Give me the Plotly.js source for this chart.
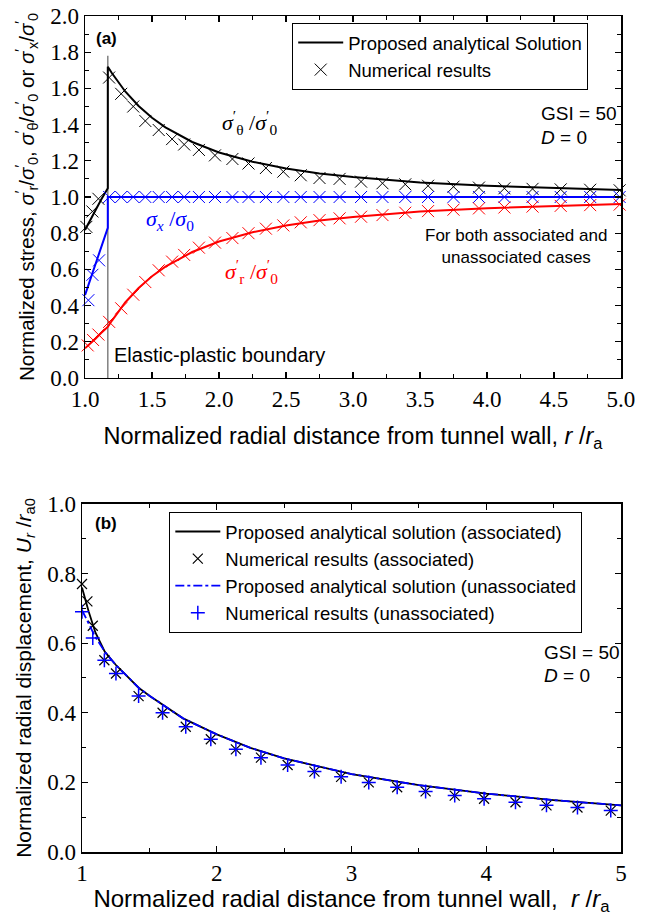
<!DOCTYPE html>
<html>
<head>
<meta charset="utf-8">
<script src="https://cdn.plot.ly/plotly-3.0.1.min.js"></script>
<style>html,body{margin:0;padding:0;background:#fff;}</style>
</head>
<body>
<div id="chart" style="width:646px;height:916px;"></div>
<script>
// ---------- Panel (a): normalized stresses ----------
// analytical solution, plastic zone (r/ra from 1 to boundary)
const aPlasticX      = [1.0, 1.04, 1.08, 1.12, 1.17];
const aPlasticTheta  = [0.818, 0.875, 0.93, 0.985, 1.048];
const aPlasticSx     = [0.458, 0.545, 0.635, 0.72, 0.83];
const aPlasticR      = [0.164, 0.19, 0.218, 0.248, 0.283];
// analytical solution, elastic zone
const aElasticX      = [1.17, 1.2, 1.3, 1.4, 1.5, 1.6, 1.8, 2.0, 2.25, 2.5, 2.75, 3.0, 3.5, 4.0, 4.5, 5.0];
const aElasticTheta  = [1.72, 1.685, 1.583, 1.503, 1.438, 1.385, 1.304, 1.246, 1.195, 1.158, 1.130, 1.110, 1.080, 1.062, 1.049, 1.039];
const aElasticR      = [0.283, 0.316, 0.417, 0.497, 0.562, 0.615, 0.696, 0.754, 0.805, 0.842, 0.870, 0.890, 0.920, 0.938, 0.951, 0.961];
const aElasticSx     = [1.0, 1.0, 1.0, 1.0, 1.0, 1.0, 1.0, 1.0, 1.0, 1.0, 1.0, 1.0, 1.0, 1.0, 1.0, 1.0];
const boundaryX      = [1.17, 1.17];
const boundaryY      = [0.0, 1.78];
// numerical results, plastic zone
const nThetaPX = [1.01, 1.055, 1.10];   const nThetaPY = [0.835, 0.92, 0.99];
const nSxPX    = [1.025, 1.055, 1.105]; const nSxPY    = [0.43, 0.57, 0.65];
const nRPX     = [1.02, 1.06, 1.10];    const nRPY     = [0.18, 0.21, 0.24];
// numerical results, elastic zone
const nElX = [1.18, 1.27, 1.36, 1.45, 1.55, 1.65, 1.74, 1.85, 1.97, 2.10, 2.22, 2.35, 2.48, 2.61, 2.75, 2.90, 3.06, 3.22, 3.39, 3.56, 3.75, 3.94, 4.13, 4.34, 4.55, 4.77, 4.99];
const nElTheta = [1.66, 1.57, 1.50, 1.42, 1.37, 1.32, 1.29, 1.26, 1.23, 1.21, 1.185, 1.16, 1.14, 1.12, 1.105, 1.10, 1.085, 1.076, 1.07, 1.062, 1.057, 1.052, 1.048, 1.045, 1.042, 1.04, 1.037];
const nElSx    = [1.0, 1.0, 1.0, 1.0, 1.0, 1.0, 1.0, 1.0, 1.0, 1.0, 1.0, 1.0, 1.0, 1.0, 1.0, 1.0, 1.0, 1.0, 1.0, 1.0, 1.0, 1.0, 1.0, 1.0, 1.0, 1.0, 1.0];
const nElR     = [0.31, 0.385, 0.46, 0.53, 0.595, 0.643, 0.68, 0.72, 0.748, 0.773, 0.80, 0.825, 0.843, 0.86, 0.872, 0.882, 0.891, 0.90, 0.913, 0.922, 0.93, 0.937, 0.942, 0.947, 0.951, 0.955, 0.958];

// ---------- Panel (b): normalized radial displacement ----------
const bLineX      = [1.0, 1.05, 1.1, 1.17, 1.25, 1.42, 1.5, 1.75, 2.0, 2.25, 2.5, 3.0, 3.5, 4.0, 4.5, 5.0];
const bAssocLine  = [0.76, 0.69, 0.63, 0.575, 0.538, 0.472, 0.449, 0.384, 0.338, 0.299, 0.269, 0.224, 0.192, 0.168, 0.149, 0.134];
const bUnassocLine= [0.695, 0.655, 0.617, 0.575, 0.538, 0.472, 0.449, 0.384, 0.338, 0.299, 0.269, 0.224, 0.192, 0.168, 0.149, 0.134];
const bAssocNumX  = [1.0, 1.04, 1.08, 1.166, 1.252, 1.42, 1.598, 1.77, 1.956, 2.142, 2.328, 2.526, 2.725, 2.923, 3.128, 3.339, 3.55, 3.766, 3.984, 4.217, 4.447, 4.677, 4.924];
const bAssocNumY  = [0.77, 0.72, 0.65, 0.551, 0.513, 0.448, 0.40, 0.36, 0.324, 0.295, 0.271, 0.25, 0.231, 0.216, 0.20, 0.186, 0.174, 0.162, 0.153, 0.143, 0.134, 0.128, 0.119];
const bUnassocNumX= [1.0, 1.08, 1.166, 1.252, 1.42, 1.598, 1.77, 1.956, 2.142, 2.328, 2.526, 2.725, 2.923, 3.128, 3.339, 3.55, 3.766, 3.984, 4.217, 4.447, 4.677, 4.924];
const bUnassocNumY= [0.69, 0.615, 0.551, 0.513, 0.448, 0.40, 0.36, 0.324, 0.295, 0.271, 0.25, 0.231, 0.216, 0.20, 0.186, 0.174, 0.162, 0.153, 0.143, 0.134, 0.128, 0.119];

const SANS = 'Liberation Sans, Arial, sans-serif';
const SERIF = 'Liberation Serif, Times New Roman, serif';
const BLUE = '#0000ff', RED = '#ff0000', BLACK = '#000000';

function lineTrace(x, y, color, opts) {
  return Object.assign({type:'scatter', mode:'lines', x:x, y:y, line:{color:color, width:2}, showlegend:false, xaxis:'x', yaxis:'y', hoverinfo:'skip'}, opts||{});
}
function markTrace(x, y, color, opts) {
  return Object.assign({type:'scatter', mode:'markers', x:x, y:y, cliponaxis:false,
    marker:{symbol:'x-thin', size:12, color:color, line:{color:color, width:1}}, showlegend:false, xaxis:'x', yaxis:'y', hoverinfo:'skip'}, opts||{});
}

const traces = [
  lineTrace(boundaryX, boundaryY, '#808080', {line:{color:'#808080', width:1.5}}),
  // analytical
  lineTrace(aPlasticX.concat(aElasticX), aPlasticTheta.concat(aElasticTheta), BLACK, {name:'Proposed analytical Solution', showlegend:true, legend:'legend'}),
  lineTrace(aPlasticX.concat(aElasticX), aPlasticSx.concat(aElasticSx), BLUE),
  lineTrace(aPlasticX.concat(aElasticX), aPlasticR.concat(aElasticR), RED),
  // numerical
  markTrace(nThetaPX.concat(nElX), nThetaPY.concat(nElTheta), BLACK, {name:'Numerical results', showlegend:true, legend:'legend'}),
  markTrace(nSxPX.concat(nElX), nSxPY.concat(nElSx), BLUE),
  markTrace(nRPX.concat(nElX), nRPY.concat(nElR), RED),
  // panel b
  {type:'scatter', mode:'lines', x:bLineX, y:bAssocLine, xaxis:'x2', yaxis:'y2', line:{color:BLACK, width:1.8},
   name:'Proposed analytical solution (associated)', legend:'legend2', hoverinfo:'skip'},
  {type:'scatter', mode:'markers', x:bAssocNumX, y:bAssocNumY, xaxis:'x2', yaxis:'y2', cliponaxis:false,
   marker:{symbol:'x-thin', size:10, color:BLACK, line:{color:BLACK, width:1.2}},
   name:'Numerical results (associated)', legend:'legend2', hoverinfo:'skip'},
  {type:'scatter', mode:'lines', x:bLineX, y:bUnassocLine, xaxis:'x2', yaxis:'y2', line:{color:BLUE, width:1.8, dash:'dashdot'},
   name:'Proposed analytical solution (unassociated', legend:'legend2', hoverinfo:'skip'},
  {type:'scatter', mode:'markers', x:bUnassocNumX, y:bUnassocNumY, xaxis:'x2', yaxis:'y2', cliponaxis:false,
   marker:{symbol:'cross-thin', size:10, color:BLUE, line:{color:BLUE, width:1.5}},
   name:'Numerical results (unassociated)', legend:'legend2', hoverinfo:'skip'}
];

const axCommon = {
  showgrid:false, zeroline:false, showline:true, linecolor:BLACK, linewidth:1.5, mirror:'ticks',
  ticks:'inside', ticklen:6, tickwidth:1.2, tickcolor:BLACK,
  tickfont:{family:SERIF, size:23, color:BLACK},
  minor:{ticks:'inside', ticklen:4, tickwidth:1, tickcolor:BLACK}
};

function sig(p, s) { return '<i>σ</i><sup>′</sup><sub>' + s + '</sub>'; }

const layout = {
  width:646, height:916,
  margin:{l:82, r:25, t:16, b:64},
  paper_bgcolor:'#ffffff', plot_bgcolor:'#ffffff',
  font:{family:SANS, color:BLACK},
  xaxis: Object.assign({}, axCommon, {
    domain:[0.0056, 1], anchor:'y', range:[1,5], tick0:1, dtick:0.5, tickformat:'.1f',
    minor:Object.assign({}, axCommon.minor, {dtick:0.25}),
    title:{text:'Normalized radial distance from tunnel wall, <i>r</i> /<i>r</i><sub>a</sub>', font:{family:SANS, size:23.5, color:BLACK}, standoff:16}
  }),
  yaxis: Object.assign({}, axCommon, {
    domain:[0.567, 1], anchor:'x', range:[0,2], tick0:0, dtick:0.2, tickformat:'.1f',
    minor:Object.assign({}, axCommon.minor, {dtick:0.1}),
    title:{text:'Normalized stress, ' + sig(0,'r') + '/' + sig(0,'0') + ', ' + sig(0,'θ') + '/' + sig(0,'0') + ' or ' + sig(0,'x') + '/' + sig(0,'0'),
           font:{family:SANS, size:20.5, color:BLACK}, standoff:10}
  }),
  xaxis2: Object.assign({}, axCommon, {
    domain:[0, 1], anchor:'y2', range:[1,5], tick0:1, dtick:1, tickformat:'d',
    minor:Object.assign({}, axCommon.minor, {dtick:0.5}),
    title:{text:'Normalized radial distance from tunnel wall,  <i>r</i> /<i>r</i><sub>a</sub>', font:{family:SANS, size:24, color:BLACK}, standoff:8}
  }),
  yaxis2: Object.assign({}, axCommon, {
    domain:[0, 0.4163], anchor:'x2', range:[0,1], tick0:0, dtick:0.2, tickformat:'.1f',
    minor:Object.assign({}, axCommon.minor, {dtick:0.1}),
    title:{text:'Normalized radial displacement, <i>U<sub>r</sub></i> /<i>r</i><sub>a0</sub>', font:{family:SANS, size:21, color:BLACK}, standoff:10}
  }),
  legend:{x:0.39, y:0.9916, xanchor:'left', yanchor:'top', bgcolor:'#ffffff', bordercolor:BLACK, borderwidth:1,
          font:{family:SANS, size:18.5, color:BLACK}, itemwidth:45, tracegroupgap:0},
  legend2:{x:0.162, y:0.4067, xanchor:'left', yanchor:'top', bgcolor:'#ffffff', bordercolor:BLACK, borderwidth:1,
          font:{family:SANS, size:18.5, color:BLACK}, itemwidth:45, tracegroupgap:0},
  annotations:[
    {xref:'x', yref:'y', x:1.164, y:1.878, text:'<b>(a)</b>', showarrow:false, font:{family:SANS, size:17, color:BLACK}},
    {xref:'x', yref:'y', x:2.23, y:1.41, text:sig(0,'θ') + ' /' + sig(0,'0'), showarrow:false, font:{family:SERIF, size:22, color:BLACK}},
    {xref:'x', yref:'y', x:1.634, y:0.873, text:'<i>σ<sub>x</sub></i> /<i>σ</i><sub>0</sub>', showarrow:false, font:{family:SERIF, size:22, color:BLUE}},
    {xref:'x', yref:'y', x:2.24, y:0.59, text:sig(0,'r') + ' /' + sig(0,'0'), showarrow:false, font:{family:SERIF, size:22, color:RED}},
    {xref:'x', yref:'y', x:4.39, y:1.464, xanchor:'left', text:'GSI = 50', showarrow:false, font:{family:SANS, size:19, color:BLACK}},
    {xref:'x', yref:'y', x:4.39, y:1.331, xanchor:'left', text:'<i>D</i> = 0', showarrow:false, font:{family:SANS, size:19, color:BLACK}},
    {xref:'x', yref:'y', x:4.216, y:0.729, text:'For both associated and<br>unassociated cases', showarrow:false, font:{family:SANS, size:17, color:BLACK}},
    {xref:'x', yref:'y', x:1.205, y:0.127, xanchor:'left', text:'Elastic-plastic boundary', showarrow:false, font:{family:SANS, size:20, color:BLACK}},
    {xref:'x2', yref:'y2', x:1.18, y:0.943, text:'<b>(b)</b>', showarrow:false, font:{family:SANS, size:17, color:BLACK}},
    {xref:'x2', yref:'y2', x:4.41, y:0.574, xanchor:'left', text:'GSI = 50', showarrow:false, font:{family:SANS, size:19, color:BLACK}},
    {xref:'x2', yref:'y2', x:4.41, y:0.508, xanchor:'left', text:'<i>D</i> = 0', showarrow:false, font:{family:SANS, size:19, color:BLACK}}
  ]
};

Plotly.newPlot('chart', traces, layout, {staticPlot:true, displayModeBar:false});
</script>
</body>
</html>
